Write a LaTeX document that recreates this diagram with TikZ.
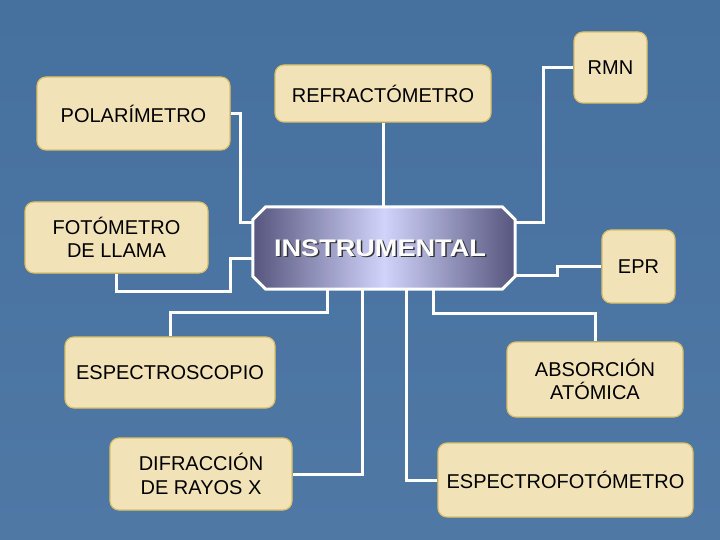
\documentclass[tikz,border=0pt]{standalone}
\usepackage{fontspec}
\setmainfont{Liberation Sans}
\newfontfamily\widefont[FakeStretch=1.13]{Liberation Sans}
\definecolor{bgblue}{HTML}{4F78A5}
\definecolor{bgblue2}{HTML}{46709E}
\definecolor{boxfill}{HTML}{F2E2B8}
\definecolor{boxline}{HTML}{DCC068}
\definecolor{octdark}{HTML}{55557D}
\definecolor{octlight}{HTML}{D2D3FA}
\tikzset{
  box/.style={rounded corners=9pt, fill=boxfill, draw=boxline, line width=1.2pt,
    align=center, inner sep=0pt, font=\fontsize{20}{23.5}\selectfont, text=black},
  conn/.style={draw=white, line width=3pt, line join=miter},
  octa/.style={draw=white, line width=3pt, left color=octdark, right color=octdark, middle color=octlight},
  bigtext/.style={font=\widefont\bfseries\fontsize{24}{28}\selectfont}
}
\begin{document}
\begin{tikzpicture}[x=1pt,y=-1pt]
\useasboundingbox (0,0) rectangle (720,540);
\fill[top color=bgblue2, bottom color=bgblue] (0,0) rectangle (720,540);

% boxes
\node[box, minimum width=193pt, minimum height=73pt] (pol) at (133.5,113.5) {POLARÍMETRO};
\node[box, minimum width=183pt, minimum height=71pt] (fot) at (116.5,237.5) {FOTÓMETRO\\DE LLAMA};
\node[box, minimum width=216pt, minimum height=57pt] (ref) at (383,93.5) {REFRACTÓMETRO};
\node[box, minimum width=73pt, minimum height=71pt] (rmn) at (610.5,67.5) {RMN};
\node[box, minimum width=73pt, minimum height=73pt] (epr) at (638.5,266.5) {EPR};
\node[box, minimum width=210pt, minimum height=71pt] (esp) at (170,372.5) {ESPECTROSCOPIO};
\node[box, minimum width=182pt, minimum height=72pt] (dif) at (201,474) {DIFRACCIÓN\\DE RAYOS X};
\node[box, minimum width=176pt, minimum height=75pt] (abs) at (595,379.5) {ABSORCIÓN\\ATÓMICA};
\node[box, minimum width=255pt, minimum height=74pt] (espf) at (565.5,480) {ESPECTROFOTÓMETRO};

% central
\node[minimum width=262pt, minimum height=82pt, inner sep=0pt] (ins) at (384,248) {};
\path[octa] ([xshift=13pt]ins.north west) -- ([xshift=-13pt]ins.north east)
  -- ([yshift=-13pt]ins.north east) -- ([yshift=13pt]ins.south east)
  -- ([xshift=-13pt]ins.south east) -- ([xshift=13pt]ins.south west)
  -- ([yshift=13pt]ins.south west) -- ([yshift=-13pt]ins.north west) -- cycle;
\node[bigtext, text=black!80] (insshadow) at (381.5,249.5) {INSTRUMENTAL};
\node[bigtext, text=white] (instext) at (380,248) {INSTRUMENTAL};

% connectors
\draw[conn] (pol.east) -| (240,223) -- (ins.west |- 0,223);
\draw[conn] (fot.south) |- (230,291) |- (ins.west |- 0,258);
\draw[conn] (ref.south) -- (ins.north -| ref.south);
\draw[conn] (rmn.west) -| (543,223) -- (ins.east |- 0,223);
\draw[conn] (epr.west) -| (557,275) -- (ins.east |- 0,275);
\draw[conn] (ins.south -| 327,0) |- (170,312) -- (esp.north);
\draw[conn] (ins.south -| 362,0) |- (dif.east);
\draw[conn] (ins.south -| 406,0) |- (espf.west);
\draw[conn] (ins.south -| 433,0) |- (595,313) -- (abs.north);
\end{tikzpicture}
\end{document}
